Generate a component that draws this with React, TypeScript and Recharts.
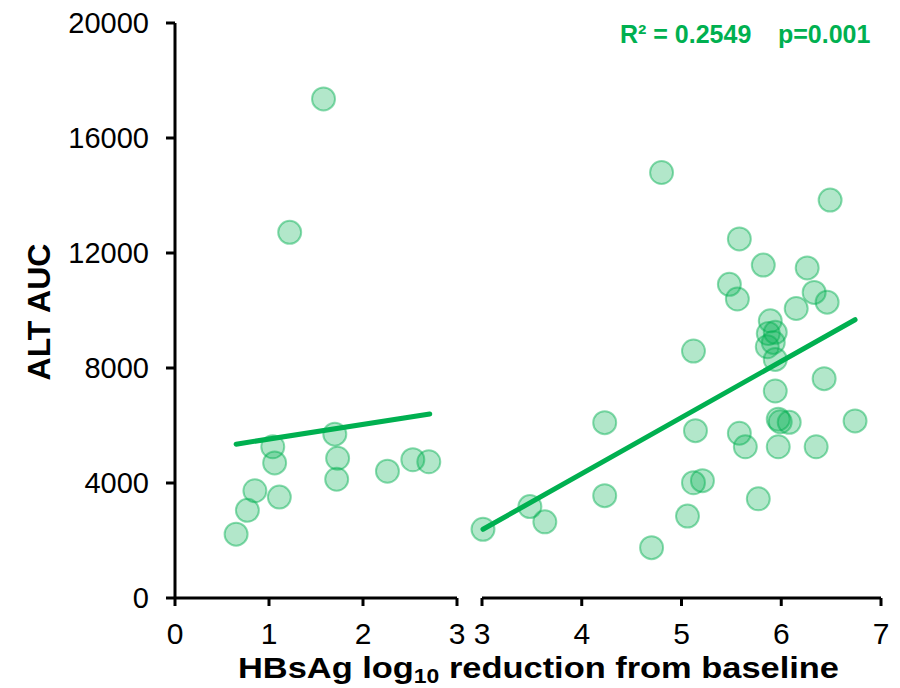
import { Scatter, ScatterChart, XAxis, YAxis } from "recharts";

// HBsAg log10 reduction (x) vs ALT AUC (y), split into two panels
const leftX = [0.65, 0.77, 0.85, 1.11, 1.06, 1.04, 1.7, 1.73, 1.72, 2.26, 2.53, 2.7, 1.22, 1.58];
const leftY = [2220, 3050, 3730, 3510, 4700, 5260, 5700, 4860, 4130, 4410, 4810, 4740, 12720, 17360];

const rightX = [
  3.01, 3.48, 3.63, 4.23, 4.23, 4.7, 4.8, 5.06, 5.12, 5.14, 5.12, 5.21, 5.58, 5.48, 5.56, 5.58, 5.64,
  5.77, 5.82, 5.89, 5.87, 5.94, 5.86, 5.92, 5.94, 5.94, 5.97, 5.99, 6.08, 5.97, 6.15, 6.26, 6.33,
  6.46, 6.43, 6.35, 6.49, 6.74,
];
const rightY = [
  2390, 3180, 2650, 6100, 3560, 1750, 14800, 2850, 8590, 5820, 4010, 4080, 12490, 10910, 10400,
  5730, 5260, 3450, 11580, 9640, 9200, 9240, 8740, 8890, 8300, 7200, 6220, 6130, 6110, 5260, 10070,
  11480, 10630, 10290, 7630, 5260, 13840, 6160,
];

// fitted regression lines (end points)
const leftFitX = [0.65, 2.71];
const leftFitY = [5350, 6400];
const rightFitX = [3.01, 6.74];
const rightFitY = [2390, 9680];

const yTicks = [0, 4000, 8000, 12000, 16000, 20000];
const leftTicks = [0, 1, 2, 3];
const rightTicks = [3, 4, 5, 6, 7];

const GREEN = "#00B050";
const FONT = "'Liberation Sans', Arial, sans-serif";

const toPoints = (xs: number[], ys: number[]) => xs.map((x, i) => ({ x, y: ys[i] }));

const axisLine = { stroke: "#000", strokeWidth: 3 };
const tickFont = { fill: "#000", fontSize: 30, fontFamily: FONT };

function Dot(props: any) {
  return (
    <circle
      cx={props.cx}
      cy={props.cy}
      r={11.5}
      fill={GREEN}
      fillOpacity={0.3}
      stroke={GREEN}
      strokeOpacity={0.45}
      strokeWidth={2}
    />
  );
}

function Panel({
  points,
  fit,
  domain,
  ticks,
  showY,
  width,
  margin,
}: {
  points: { x: number; y: number }[];
  fit: { x: number; y: number }[];
  domain: [number, number];
  ticks: number[];
  showY: boolean;
  width: number;
  margin: { top: number; right: number; bottom: number; left: number };
}) {
  return (
    <ScatterChart width={width} height={688} margin={margin}>
      <XAxis
        type="number"
        dataKey="x"
        domain={domain}
        ticks={ticks}
        interval={0}
        axisLine={axisLine}
        tickLine={axisLine}
        tickSize={8}
        tickMargin={17}
        height={60}
        tick={tickFont}
      />
      <YAxis
        type="number"
        dataKey="y"
        domain={[0, 20000]}
        ticks={yTicks}
        interval={0}
        hide={!showY}
        width={175}
        axisLine={axisLine}
        tickLine={axisLine}
        tickSize={9}
        tickMargin={17}
        tick={{ ...tickFont, fontSize: 29 }}
      />
      <Scatter data={points} shape={Dot} isAnimationActive={false} />
      <Scatter
        data={fit}
        line={{ stroke: GREEN, strokeWidth: 5, strokeLinecap: "round" }}
        shape={() => <g />}
        isAnimationActive={false}
      />
    </ScatterChart>
  );
}

export default function App() {
  return (
    <div style={{ position: "absolute", left: 0, top: 0, width: 900, height: 688, background: "#fff", fontFamily: FONT }}>
      <div style={{ position: "absolute", left: 0, top: 0 }}>
        <Panel
          points={toPoints(leftX, leftY)}
          fit={toPoints(leftFitX, leftFitY)}
          domain={[0, 3]}
          ticks={leftTicks}
          showY
          width={470}
          margin={{ top: 23, right: 13, bottom: 30, left: 0 }}
        />
      </div>
      <div style={{ position: "absolute", left: 470, top: 0 }}>
        <Panel
          points={toPoints(rightX, rightY)}
          fit={toPoints(rightFitX, rightFitY)}
          domain={[3, 7]}
          ticks={rightTicks}
          showY={false}
          width={430}
          margin={{ top: 23, right: 19, bottom: 30, left: 12 }}
        />
      </div>
      <svg width={900} height={688} style={{ position: "absolute", left: 0, top: 0, pointerEvents: "none" }}>
        <text
          x={50}
          y={312}
          transform="rotate(-90, 50, 312)"
          textAnchor="middle"
          fontSize={32}
          fontWeight="bold"
          fontFamily={FONT}
        >
          ALT AUC
        </text>
        <text
          x={238}
          y={678}
          fontSize={30}
          fontWeight="bold"
          fontFamily={FONT}
          textLength={601}
          lengthAdjust="spacingAndGlyphs"
        >
          HBsAg  log
          <tspan fontSize={20} dy={5}>10</tspan>
          <tspan dy={-5}> reduction from baseline</tspan>
        </text>
        <text x={620} y={43} fontSize={25} fontWeight="bold" fill={GREEN} fontFamily={FONT}>
          R² = 0.2549
        </text>
        <text x={778} y={43} fontSize={25} fontWeight="bold" fill={GREEN} fontFamily={FONT}>
          p=0.001
        </text>
      </svg>
    </div>
  );
}
